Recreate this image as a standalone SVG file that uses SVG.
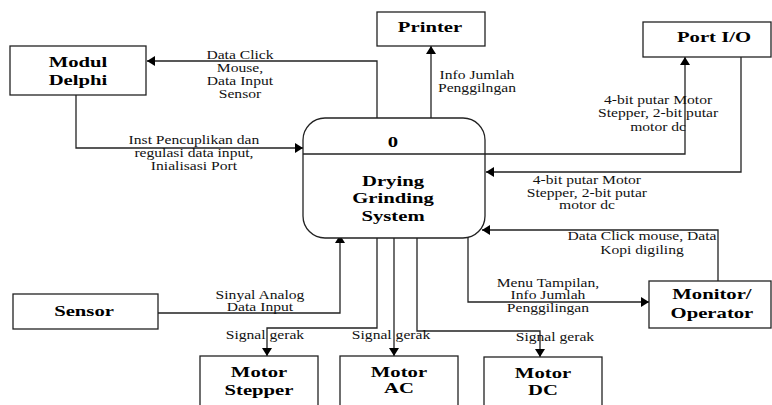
<svg xmlns="http://www.w3.org/2000/svg" width="772" height="405" viewBox="0 0 772 405">
<style>
.box{fill:#fff;stroke:#222;stroke-width:1.3}
.ln{fill:none;stroke:#222;stroke-width:1.3}
.b{font-family:'Liberation Serif','Times New Roman',Tinos,'DejaVu Serif',serif;font-weight:bold;font-size:15px;fill:#000;text-anchor:middle}
.r{font-family:'Liberation Serif','Times New Roman',Tinos,'DejaVu Serif',serif;font-size:12px;fill:#111;text-anchor:middle}
</style>
<defs>
<marker id="ah" viewBox="0 0 8 10" refX="8" refY="5" markerWidth="8" markerHeight="10" markerUnits="userSpaceOnUse" orient="auto">
<path d="M0,0 L8,5 L0,10 z" fill="#000"/>
</marker>
</defs>
<rect width="772" height="405" fill="#fff"/>
<g id="connectors">
<path class="ln" d="M377,118 V61 H147" marker-end="url(#ah)"/>
<path class="ln" d="M76,95 V148 H303" marker-end="url(#ah)"/>
<path class="ln" d="M431,118 V46" marker-end="url(#ah)"/>
<path class="ln" d="M485,154 H685 V57" marker-end="url(#ah)"/>
<path class="ln" d="M741,57 V172 H486" marker-end="url(#ah)"/>
<path class="ln" d="M718,281 V230 H482" marker-end="url(#ah)"/>
<path class="ln" d="M468,237 V302 H649" marker-end="url(#ah)"/>
<path class="ln" d="M158,313 H340 V235" marker-end="url(#ah)"/>
<path class="ln" d="M377,238 V328 H267 V356" marker-end="url(#ah)"/>
<path class="ln" d="M394,238 V356" marker-end="url(#ah)"/>
<path class="ln" d="M417,238 V331 H540 V357" marker-end="url(#ah)"/>
</g>
<g id="labels" transform="scale(1.3,1)">
<text class="r" font-family="Liberation Serif, serif"><tspan x="184.6" y="59">Data Click</tspan><tspan x="184.6" y="72">Mouse,</tspan><tspan x="184.6" y="85">Data Input</tspan><tspan x="184.6" y="98">Sensor</tspan></text>
<text class="r"><tspan x="149.2" y="144">Inst Pencuplikan dan</tspan><tspan x="149.2" y="157">regulasi data input,</tspan><tspan x="149.2" y="170">Inialisasi Port</tspan></text>
<text class="r"><tspan x="366.9" y="79">Info Jumlah</tspan><tspan x="366.9" y="92">Penggilngan</tspan></text>
<text class="r"><tspan x="506.2" y="104">4-bit putar Motor</tspan><tspan x="506.2" y="117">Stepper, 2-bit putar</tspan><tspan x="506.2" y="131">motor dc</tspan></text>
<text class="r"><tspan x="451.5" y="184">4-bit putar Motor</tspan><tspan x="451.5" y="197">Stepper, 2-bit putar</tspan><tspan x="451.5" y="209">motor dc</tspan></text>
<text class="r"><tspan x="493.8" y="240">Data Click mouse, Data</tspan><tspan x="493.8" y="254">Kopi digiling</tspan></text>
<text class="r"><tspan x="421.5" y="287">Menu Tampilan,</tspan><tspan x="421.5" y="299">Info Jumlah</tspan><tspan x="421.5" y="312">Penggilingan</tspan></text>
<text class="r"><tspan x="200" y="299">Sinyal Analog</tspan><tspan x="200" y="311">Data Input</tspan></text>
<text class="r" x="203.8" y="339">Signal gerak</text>
<text class="r" x="300.8" y="339">Signal gerak</text>
<text class="r" x="426.9" y="341">Signal gerak</text>
</g>
<g id="modul-delphi"><rect class="box" x="10" y="46" width="136" height="49"/><text class="b" transform="scale(1.38,1)"><tspan x="56.5" y="67">Modul</tspan><tspan x="56.5" y="85">Delphi</tspan></text></g>
<g id="printer"><rect class="box" x="377" y="12" width="108" height="34"/><text class="b" transform="scale(1.38,1)" x="311.6" y="32">Printer</text></g>
<g id="port-io"><rect class="box" x="643" y="22" width="128" height="35"/><text class="b" transform="scale(1.38,1)" x="517.4" y="42">Port I/O</text></g>
<g id="system"><rect class="box" x="303" y="118" width="182" height="120" rx="22" ry="22"/><line class="ln" x1="303" y1="154" x2="485" y2="154"/><text class="b" transform="scale(1.38,1)"><tspan x="284.8" y="147">0</tspan><tspan x="284.8" y="186">Drying</tspan><tspan x="284.8" y="203.5">Grinding</tspan><tspan x="284.8" y="221">System</tspan></text></g>
<g id="sensor"><rect class="box" x="13" y="294" width="145" height="35"/><text class="b" transform="scale(1.38,1)" x="60.9" y="316">Sensor</text></g>
<g id="monitor"><rect class="box" x="649" y="281" width="122" height="47"/><text class="b" transform="scale(1.38,1)"><tspan x="515.9" y="299">Monitor/</tspan><tspan x="515.9" y="318">Operator</tspan></text></g>
<g id="motor-stepper"><rect class="box" x="200" y="356" width="118" height="60"/><text class="b" transform="scale(1.38,1)"><tspan x="187.7" y="377">Motor</tspan><tspan x="187.7" y="395">Stepper</tspan></text></g>
<g id="motor-ac"><rect class="box" x="340" y="356" width="118" height="60"/><text class="b" transform="scale(1.38,1)"><tspan x="289.1" y="377">Motor</tspan><tspan x="289.1" y="393">AC</tspan></text></g>
<g id="motor-dc"><rect class="box" x="484" y="357" width="118" height="60"/><text class="b" transform="scale(1.38,1)"><tspan x="393.5" y="378">Motor</tspan><tspan x="393.5" y="395">DC</tspan></text></g>
</svg>
